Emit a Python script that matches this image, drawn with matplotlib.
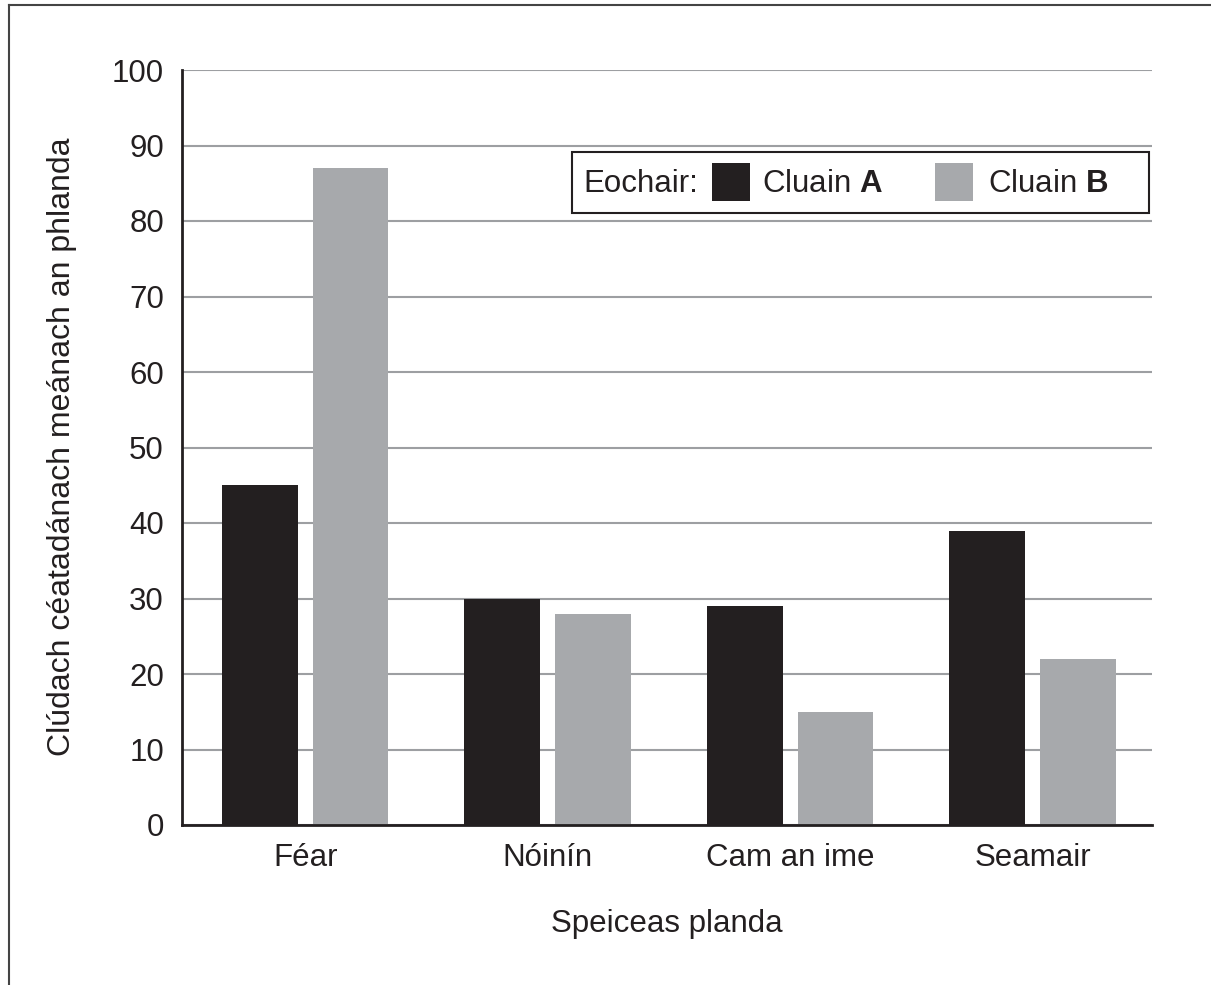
import matplotlib
matplotlib.use("Agg")
import matplotlib.pyplot as plt
from matplotlib.patches import Rectangle
from matplotlib.lines import Line2D
import numpy as np

plt.rcParams['font.family'] = ['Liberation Sans', 'DejaVu Sans']
plt.rcParams['mathtext.fontset'] = 'custom'
plt.rcParams['mathtext.rm'] = 'Liberation Sans'
plt.rcParams['mathtext.bf'] = 'Liberation Sans:bold'

categories = ["Féar", "Nóinín", "Cam an ime", "Seamair"]
cluain_a = [45, 30, 29, 39]
cluain_b = [87, 28, 15, 22]
yticks = [0, 10, 20, 30, 40, 50, 60, 70, 80, 90, 100]
series_names = ["Cluain $\\mathbf{A}$", "Cluain $\\mathbf{B}$"]
ylabel = "Clúdach céatadánach meánach an phlanda"
xlabel = "Speiceas planda"
legend_title = "Eochair:"

TXT = '#231f20'
COL_A = '#231f20'
COL_B = '#a7a9ac'
GRID = '#9d9fa2'
FS = 22.5

W, H = 1211, 985
fig = plt.figure(figsize=(W / 100, H / 100), dpi=100)

def fx(x):
    return x / W

def fy(y):
    return 1 - y / H

ax = fig.add_axes([fx(182), fy(825), fx(1152) - fx(182), fy(70) - fy(825)])

x = np.arange(len(categories))
w = 0.313
off = 0.187
ax.bar(x - off, cluain_a, w, color=COL_A, zorder=3)
ax.bar(x + off, cluain_b, w, color=COL_B, zorder=3)

ax.set_xlim(-0.508, len(categories) - 0.508)
ax.set_ylim(0, 100)
ax.set_yticks(yticks)
ax.set_yticklabels([str(t) for t in yticks])
ax.set_xticks(x)
ax.set_xticklabels(categories)
ax.tick_params(axis='both', length=0, labelsize=FS, colors=TXT)
ax.tick_params(axis='y', pad=13)
ax.tick_params(axis='x', pad=13)
ax.yaxis.grid(True, color=GRID, linewidth=1.5, zorder=0)
ax.set_axisbelow(True)
for s in ['top', 'right']:
    ax.spines[s].set_visible(False)
for s in ['left', 'bottom']:
    ax.spines[s].set_color(TXT)
    ax.spines[s].set_linewidth(2)
    ax.spines[s].set_zorder(4)

fig.text(fx(667), fy(932), xlabel, ha='center', va='baseline', fontsize=FS, color=TXT)
fig.text(fx(62), fy(447), ylabel, ha='center', va='center', rotation=90, fontsize=23, color=TXT)

# legend box
fig.add_artist(Rectangle((fx(572), fy(213)), fx(1149) - fx(572), fy(152) - fy(213),
                         transform=fig.transFigure, facecolor='white', edgecolor=TXT,
                         linewidth=1.5, zorder=5))
fig.text(fx(583), fy(192), legend_title, ha='left', va='baseline', fontsize=FS, color=TXT, zorder=6)
fig.add_artist(Rectangle((fx(712), fy(201)), fx(750) - fx(712), fy(163) - fy(201),
                         transform=fig.transFigure, facecolor=COL_A, edgecolor='none', zorder=6))
fig.text(fx(762), fy(192), series_names[0], ha='left', va='baseline', fontsize=FS, color=TXT, zorder=6)
fig.add_artist(Rectangle((fx(935), fy(201)), fx(973) - fx(935), fy(163) - fy(201),
                         transform=fig.transFigure, facecolor=COL_B, edgecolor='none', zorder=6))
fig.text(fx(988), fy(192), series_names[1], ha='left', va='baseline', fontsize=FS, color=TXT, zorder=6)

# page border (top and left)
fig.add_artist(Line2D([fx(9), 1], [fy(4.5), fy(4.5)], transform=fig.transFigure, color='#444444', linewidth=1.5))
fig.add_artist(Line2D([fx(9), fx(9)], [0, fy(4.5)], transform=fig.transFigure, color='#444444', linewidth=1.5))

fig.savefig("out.png", dpi=100, facecolor='white')
